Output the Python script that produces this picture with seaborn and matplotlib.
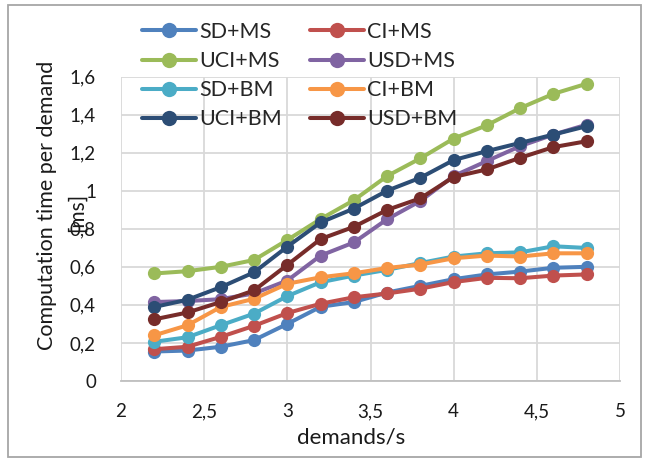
import numpy as np
import pandas as pd
import matplotlib
matplotlib.use("Agg")
import matplotlib.pyplot as plt
import seaborn as sns
from matplotlib.patches import Rectangle
from matplotlib.ticker import FuncFormatter, MultipleLocator

# ---- data ----
demands = [2.2, 2.4, 2.6, 2.8, 3.0, 3.2, 3.4, 3.6, 3.8, 4.0, 4.2, 4.4, 4.6, 4.8]
series_names = ["SD+MS", "CI+MS", "UCI+MS", "USD+MS", "SD+BM", "CI+BM", "UCI+BM", "USD+BM"]
sd_ms = [0.155, 0.16, 0.18, 0.215, 0.30, 0.39, 0.415, 0.465, 0.50, 0.535, 0.56, 0.575, 0.595, 0.60]
ci_ms = [0.167, 0.18, 0.232, 0.29, 0.357, 0.406, 0.44, 0.46, 0.485, 0.52, 0.542, 0.54, 0.554, 0.56]
uci_ms = [0.565, 0.577, 0.60, 0.636, 0.741, 0.851, 0.95, 1.077, 1.17, 1.274, 1.344, 1.434, 1.509, 1.562]
usd_ms = [0.415, 0.42, 0.43, 0.46, 0.528, 0.659, 0.728, 0.85, 0.946, 1.077, 1.156, 1.234, 1.295, 1.347]
sd_bm = [0.206, 0.23, 0.293, 0.354, 0.446, 0.519, 0.554, 0.584, 0.62, 0.654, 0.671, 0.676, 0.708, 0.699]
ci_bm = [0.24, 0.293, 0.389, 0.432, 0.511, 0.545, 0.566, 0.594, 0.612, 0.645, 0.659, 0.654, 0.671, 0.671]
uci_bm = [0.389, 0.427, 0.493, 0.571, 0.706, 0.833, 0.906, 1.0, 1.068, 1.161, 1.208, 1.251, 1.295, 1.339]
usd_bm = [0.324, 0.36, 0.415, 0.476, 0.61, 0.746, 0.81, 0.899, 0.96, 1.072, 1.112, 1.173, 1.229, 1.26]
all_values = [sd_ms, ci_ms, uci_ms, usd_ms, sd_bm, ci_bm, uci_bm, usd_bm]
colors = ["#4F81BD", "#C0504D", "#9BBB59", "#8064A2", "#4BACC6", "#F79646", "#2C4D75", "#772C2A"]
x_label = "demands/s"
y_label_main = "Computation time per demand"
y_label_unit = "[ms]"

rows = []
for name, vals in zip(series_names, all_values):
    for d, v in zip(demands, vals):
        rows.append({"demands": d, "time": v, "series": name})
df = pd.DataFrame(rows)

sns.set_theme(style="white")
plt.rcParams["font.family"] = ["Lato", "DejaVu Sans"]

W, H = 648, 459
fig = plt.figure(figsize=(W / 100, H / 100), dpi=100)
ax = fig.add_axes([121 / W, 1 - 381 / H, (620 - 121) / W, (381 - 76.5) / H])

sns.lineplot(data=df, x="demands", y="time", hue="series", hue_order=series_names,
             palette=colors, marker="o", markersize=9.5, markeredgewidth=0,
             linewidth=2.9, ax=ax, legend=True)

ax.set_xlim(2, 5)
ax.set_ylim(0, 1.6)
ax.xaxis.set_major_locator(MultipleLocator(0.5))
ax.yaxis.set_major_locator(MultipleLocator(0.2))
fmt = FuncFormatter(lambda v, p: f"{v:g}".replace(".", ","))
ax.xaxis.set_major_formatter(fmt)
ax.yaxis.set_major_formatter(fmt)
ax.grid(True, color="#D9D9D9", linewidth=1.3)
ax.set_axisbelow(True)
for s in ["left", "right", "top"]:
    ax.spines[s].set_visible(False)
ax.spines["bottom"].set_color("#BFBFBF")
ax.spines["bottom"].set_linewidth(1.3)
ax.tick_params(axis="both", length=0, labelsize=13.5, colors="#1a1a1a")
ax.tick_params(axis="x", pad=16)
ax.tick_params(axis="y", pad=18)
ax.set_xlabel(x_label, fontsize=16, color="#1a1a1a")
ax.xaxis.set_label_coords((351 - 121) / 499, (381 - 437) / 304.5)
ax.xaxis.label.set_va("center")
ax.set_ylabel("")

fig.text(47 / W, 1 - 205 / H, y_label_main, rotation=90, fontsize=15.5,
         color="#1a1a1a", ha="center", va="center")
fig.text(77 / W, 1 - 212 / H, y_label_unit, rotation=90, fontsize=15,
         color="#1a1a1a", ha="center", va="center")

handles, labels = ax.get_legend_handles_labels()
order = [0, 2, 4, 6, 1, 3, 5, 7]
ax.legend([handles[i] for i in order], [labels[i] for i in order], ncol=2,
          loc="upper left", bbox_to_anchor=(142 / W, 1 - 22 / H),
          bbox_transform=fig.transFigure, frameon=False, fontsize=15.5,
          handlelength=2.5, handletextpad=0.15, columnspacing=1.3,
          labelspacing=0.42, borderaxespad=0, borderpad=0)
leg = ax.get_legend()
leg.set_zorder(10)
for lh in leg.get_lines():
    lh.set_markersize(11)

fig.patches.append(Rectangle((8 / W, 1 - 457 / H), (641 - 8) / W, (457 - 5) / H,
                             transform=fig.transFigure, fill=False,
                             edgecolor="#A6A6A6", linewidth=1.3))

fig.savefig("out.png", dpi=100)
